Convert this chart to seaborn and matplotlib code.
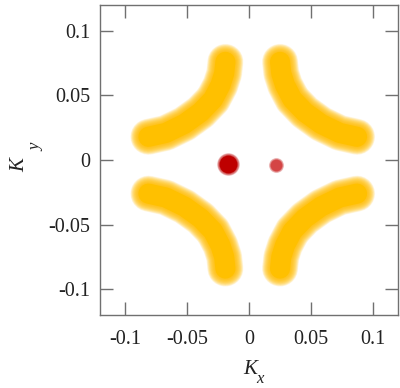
import numpy as np
import pandas as pd
import matplotlib
matplotlib.use("Agg")
import matplotlib.pyplot as plt
import seaborn as sns

# ---- data ----
tl_x = [-0.081, -0.067, -0.052, -0.039, -0.029, -0.023, -0.020, -0.019]
tl_y = [0.018, 0.021, 0.028, 0.037, 0.047, 0.058, 0.067, 0.076]
tr_x = [0.087, 0.073, 0.058, 0.045, 0.035, 0.029, 0.026, 0.025]
tr_y = [0.018, 0.021, 0.028, 0.037, 0.047, 0.058, 0.067, 0.076]
bl_x = [-0.081, -0.067, -0.052, -0.039, -0.029, -0.023, -0.020, -0.019]
bl_y = [-0.026, -0.029, -0.036, -0.045, -0.055, -0.066, -0.075, -0.084]
br_x = [0.087, 0.073, 0.058, 0.045, 0.035, 0.029, 0.026, 0.025]
br_y = [-0.026, -0.029, -0.036, -0.045, -0.055, -0.066, -0.075, -0.084]

dot_x = [-0.017, 0.022]
dot_y = [-0.003, -0.004]

xticks = [-0.1, -0.05, 0, 0.05, 0.1]
xtick_labels = ["-0.1", "-0.05", "0", "0.05", "0.1"]
yticks = [-0.1, -0.05, 0, 0.05, 0.1]
ytick_labels = ["-0.1", "-0.05", "0", "0.05", "0.1"]

# ---- style ----
sns.set_style("ticks")
plt.rcParams["font.family"] = ["Liberation Serif", "DejaVu Serif"]

fig = plt.figure(figsize=(4.0, 3.88), dpi=100)
ax = fig.add_axes([0.25, 0.188, 0.745, 0.799])

arcs = pd.DataFrame({
    "x": tl_x + tr_x + bl_x + br_x,
    "y": tl_y + tr_y + bl_y + br_y,
    "arc": ["tl"] * len(tl_x) + ["tr"] * len(tr_x) + ["bl"] * len(bl_x) + ["br"] * len(br_x),
})

arc_color = "#FFC000"
for lw in np.linspace(26, 15, 22):
    sns.lineplot(data=arcs, x="x", y="y", units="arc", estimator=None, sort=False,
                 color=arc_color, lw=lw, alpha=0.085, solid_capstyle="round",
                 ax=ax, legend=False)
sns.lineplot(data=arcs, x="x", y="y", units="arc", estimator=None, sort=False,
             color=arc_color, lw=14.5, alpha=1.0, solid_capstyle="round",
             ax=ax, legend=False)

dots = pd.DataFrame({"x": dot_x, "y": dot_y})
dot_colors = ["#BE0000", "#D44545"]
dot_core = [165, 70]
dot_outer = [270, 120]
for i in range(len(dots)):
    d = dots.iloc[[i]]
    for s in np.linspace(dot_outer[i], dot_core[i], 12):
        sns.scatterplot(data=d, x="x", y="y", s=s, color=dot_colors[i], alpha=0.1,
                        linewidth=0, ax=ax, legend=False)
    sns.scatterplot(data=d, x="x", y="y", s=dot_core[i], color=dot_colors[i],
                    alpha=1.0, linewidth=0, ax=ax, legend=False)

ax.set_xlim(-0.12, 0.12)
ax.set_ylim(-0.12, 0.12)
ax.set_xticks(xticks)
ax.set_xticklabels(xtick_labels)
ax.set_yticks(yticks)
ax.set_yticklabels(ytick_labels)

for sp in ax.spines.values():
    sp.set_color("#707070")
    sp.set_linewidth(1.0)
ax.tick_params(direction="in", length=9.5, width=1.0, color="#707070",
               top=True, right=True, labelsize=14.5, labelcolor="#222222")
ax.tick_params(axis="x", pad=11)
ax.tick_params(axis="y", pad=7)

ax.set_xlabel("")
ax.set_ylabel("")
fig.text(0.625, 0.047, "K", style="italic", fontsize=15, color="#222222",
         ha="center", va="center")
fig.text(0.65, 0.022, "x", style="italic", fontsize=12, color="#222222",
         ha="center", va="center")
fig.text(0.05, 0.575, "K", style="italic", fontsize=15, color="#222222",
         ha="center", va="center", rotation=90)
fig.text(0.091, 0.621, "y", style="italic", fontsize=12, color="#222222",
         ha="center", va="center", rotation=90)

fig.savefig("out.png", dpi=100)
